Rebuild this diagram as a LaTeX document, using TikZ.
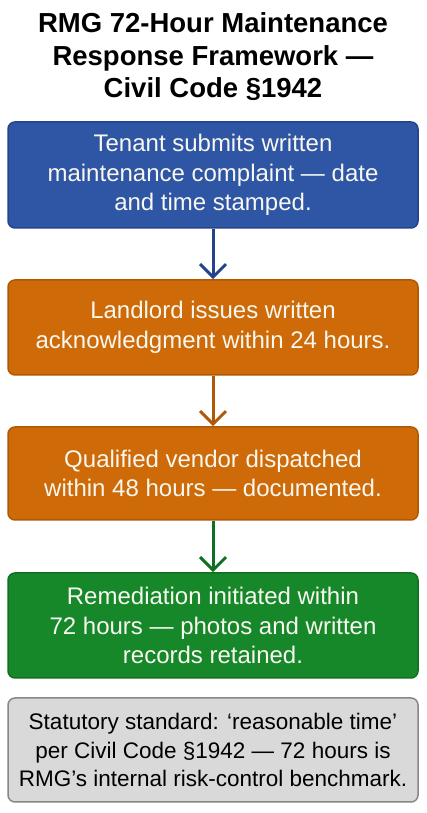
\documentclass[tikz,border=0pt]{standalone}
\usepackage{fontspec}
\setmainfont{Liberation Sans}
\usetikzlibrary{arrows.meta}
\definecolor{bluebox}{RGB}{47,85,165}
\definecolor{blueedge}{RGB}{35,68,140}
\definecolor{orangebox}{RGB}{206,106,8}
\definecolor{orangeedge}{RGB}{176,88,6}
\definecolor{greenbox}{RGB}{22,136,42}
\definecolor{greenedge}{RGB}{16,112,34}
\definecolor{graybox}{RGB}{217,217,217}
\definecolor{grayedge}{RGB}{135,135,135}
\definecolor{boxtext}{RGB}{248,248,240}
\tikzset{
  x=1pt, y=1pt,
  stepbox/.style={draw, line width=1.5pt, rounded corners=7pt, minimum width=410pt,
    align=center, text=boxtext, inner sep=0pt,
    font=\fontsize{24}{29.5}\selectfont},
  flowarrow/.style={line width=3pt, -{Straight Barb[length=13pt,width=26pt,line width=3pt]}},
}
\begin{document}
\begin{tikzpicture}
\useasboundingbox (0,0) rectangle (427,813);
\fill[white] (0,0) rectangle (427,813);
\node[align=center, font=\bfseries\fontsize{27.5}{32.5}\selectfont] (title) at (213,756)
  {RMG 72-Hour Maintenance\\Response Framework —\\Civil Code §1942};
\node[stepbox, fill=bluebox, draw=blueedge, minimum height=106pt] (b1) at (213,638)
  {Tenant submits written\\maintenance complaint — date\\and time stamped.};
\node[stepbox, fill=orangebox, draw=orangeedge, minimum height=95pt] (b2) at (213,485.5)
  {Landlord issues written\\acknowledgment within 24 hours.};
\node[stepbox, fill=orangebox, draw=orangeedge, minimum height=93pt] (b3) at (213,339.5)
  {Qualified vendor dispatched\\within 48 hours — documented.};
\node[stepbox, fill=greenbox, draw=greenedge, minimum height=105pt] (b4) at (213,187.5)
  {Remediation initiated within\\72 hours — photos and written\\records retained.};
\node[stepbox, fill=graybox, draw=grayedge, text=black, minimum height=104pt,
  font=\fontsize{22.5}{28.5}\selectfont] (b5) at (213,63)
  {Statutory standard: ‘reasonable time’\\per Civil Code §1942 — 72 hours is\\RMG’s internal risk-control benchmark.};
\draw[flowarrow, draw=blueedge] (b1.south) -- (b2.north);
\draw[flowarrow, draw=orangeedge] (b2.south) -- (b3.north);
\draw[flowarrow, draw=greenedge] (b3.south) -- (b4.north);
\end{tikzpicture}
\end{document}
